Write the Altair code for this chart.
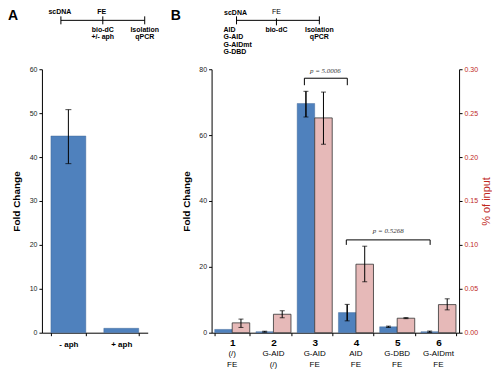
import altair as alt
import pandas as pd

SANS = "Liberation Sans"
SERIF = "Liberation Serif"
BLUE = "#4F81BD"
PINK = "#E6B9B8"
RED = "#C0281E"

# ---------------- data ----------------
a_labels = ["- aph", "+ aph"]
a_values = [44.8, 1.0]
a_err_low = [38.5, None]
a_err_high = [50.8, None]

b_groups = ["1", "2", "3", "4", "5", "6"]
b_line2 = ["(/)", "G-AID", "G-AID", "AID", "G-DBD", "G-AIDmt"]
b_line3 = ["FE", "(/)", "FE", "FE", "FE", "FE"]
fold = [1.0, 0.3, 69.6, 6.1, 1.8, 0.3]
fold_lo = [None, 0.15, 65.5, 3.6, 1.6, 0.1]
fold_hi = [None, 0.45, 73.3, 8.6, 2.0, 0.5]
pct = [0.0112, 0.021, 0.2446, 0.078, 0.0165, 0.032]
pct_lo = [0.0060, 0.017, 0.2146, 0.058, 0.0160, 0.026]
pct_hi = [0.0155, 0.025, 0.2740, 0.0985, 0.0172, 0.0386]

dummy = pd.DataFrame({"d": [0]})


def txt(s, x, y, size=7, weight="bold", align="center", color="black",
        font=SANS, style="normal"):
    return alt.Chart(pd.DataFrame({"s": [s]})).mark_text(
        align=align, baseline="middle", fontSize=size, fontWeight=weight,
        color=color, font=font, fontStyle=style
    ).encode(x=alt.value(x), y=alt.value(y), text="s:N")


def hline(x1, x2, y, w=1.0):
    return alt.Chart(dummy).mark_rule(color="black", strokeWidth=w).encode(
        x=alt.value(x1), x2=alt.value(x2), y=alt.value(y))


def vline(x, y1, y2, w=1.0):
    return alt.Chart(dummy).mark_rule(color="black", strokeWidth=w).encode(
        x=alt.value(x), y=alt.value(y1), y2=alt.value(y2))


# ---------------- panel A ----------------
A_W, A_H = 106, 264
dfa = pd.DataFrame({"cond": a_labels, "val": a_values,
                    "lo": a_err_low, "hi": a_err_high})
xa = alt.X("cond:N", sort=a_labels,
           scale=alt.Scale(paddingInner=0.34, paddingOuter=0.17),
           axis=alt.Axis(title=None, labelAngle=0, tickBand="extent",
                         labelFontWeight="bold", labelFontSize=8,
                         labelColor="black", labelPadding=5, tickSize=3))
ya = alt.Y("val:Q", scale=alt.Scale(domain=[0, 60], nice=False),
           axis=alt.Axis(title="Fold Change", values=[0, 10, 20, 30, 40, 50, 60],
                         titleFontSize=10, titleFontWeight="bold", titlePadding=8,
                         labelFontSize=7, tickSize=3))
bars_a = alt.Chart(dfa).mark_bar(color=BLUE, stroke="#3a5f8f", strokeWidth=0.4).encode(x=xa, y=ya)
err_a = alt.Chart(dfa).transform_filter("isValid(datum.lo)").mark_rule(
    color="black", strokeWidth=1).encode(x=alt.X("cond:N", sort=a_labels), y="lo:Q", y2="hi:Q")
caplo_a = alt.Chart(dfa).transform_filter("isValid(datum.lo)").mark_tick(
    color="black", orient="horizontal", size=6, thickness=1).encode(
    x=alt.X("cond:N", sort=a_labels), y="lo:Q")
caphi_a = alt.Chart(dfa).transform_filter("isValid(datum.hi)").mark_tick(
    color="black", orient="horizontal", size=6, thickness=1).encode(
    x=alt.X("cond:N", sort=a_labels), y="hi:Q")

ann_a = [
    txt("A", -34, -53, size=14, weight="bold", align="left"),
    txt("scDNA", 18, -57),
    txt("FE", 60, -57),
    hline(19, 103, -49),
    vline(19, -53, -45), vline(61, -53, -45), vline(103, -53, -45),
    txt("bio-dC", 61, -39),
    txt("+/- aph", 61, -32),
    txt("Isolation", 103, -39),
    txt("qPCR", 103, -32),
]
panel_a = alt.layer(bars_a, err_a, caplo_a, caphi_a, *ann_a).properties(width=A_W, height=A_H)

# ---------------- panel B ----------------
B_W, B_H = 248, 264
dfb = pd.DataFrame({"g": b_groups, "l2": b_line2, "l3": b_line3,
                    "fold": fold, "flo": fold_lo, "fhi": fold_hi,
                    "pct": pct, "plo": pct_lo, "phi": pct_hi})
dfb["s_blue"] = "blue"
dfb["s_pink"] = "pink"

xb = alt.X("g:N", sort=b_groups,
           scale=alt.Scale(paddingInner=0.15, paddingOuter=0.075),
           axis=alt.Axis(title=None, labelAngle=0, tickBand="extent",
                         labelFontWeight="bold", labelFontSize=10,
                         labelColor="black", labelPadding=2, tickSize=3))
off_b = alt.XOffset("s_blue:N", scale=alt.Scale(domain=["blue", "pink"]))
off_p = alt.XOffset("s_pink:N", scale=alt.Scale(domain=["blue", "pink"]))

yb = alt.Y("fold:Q", scale=alt.Scale(domain=[0, 80], nice=False),
           axis=alt.Axis(title="Fold Change", orient="left",
                         values=[0, 10, 20, 30, 40, 50, 60, 70, 80],
                         titleFontSize=10, titleFontWeight="bold", titlePadding=7,
                         labelFontSize=7, tickSize=3))
yp = alt.Y("pct:Q", scale=alt.Scale(domain=[0, 0.30], nice=False),
           axis=alt.Axis(title="% of input", orient="right", format=".2f",
                         values=[0, 0.05, 0.10, 0.15, 0.20, 0.25, 0.30],
                         titleFontSize=11, titleFontWeight="normal", titleColor=RED,
                         titleAngle=270, titlePadding=14,
                         labelColor=RED, labelFontSize=7, tickSize=3))

blue_bars = alt.Chart(dfb).mark_bar(color=BLUE, stroke="#3a5f8f", strokeWidth=0.4).encode(
    x=xb, xOffset=off_b, y=yb)
blue_err = alt.Chart(dfb).transform_filter("isValid(datum.flo)").mark_rule(
    color="black", strokeWidth=1.5).encode(
    x=alt.X("g:N", sort=b_groups), xOffset=off_b, y="flo:Q", y2="fhi:Q")
blue_cap1 = alt.Chart(dfb).transform_filter("isValid(datum.flo)").mark_tick(
    color="black", orient="horizontal", size=5, thickness=1).encode(
    x=alt.X("g:N", sort=b_groups), xOffset=off_b, y="flo:Q")
blue_cap2 = alt.Chart(dfb).transform_filter("isValid(datum.fhi)").mark_tick(
    color="black", orient="horizontal", size=5, thickness=1).encode(
    x=alt.X("g:N", sort=b_groups), xOffset=off_b, y="fhi:Q")
blue_layer = alt.layer(blue_bars, blue_err, blue_cap1, blue_cap2)

pink_bars = alt.Chart(dfb).mark_bar(color=PINK, stroke="#333333", strokeWidth=0.8).encode(
    x=xb, xOffset=off_p, y=yp)
pink_err = alt.Chart(dfb).mark_rule(color="black", strokeWidth=1).encode(
    x=alt.X("g:N", sort=b_groups), xOffset=off_p,
    y=alt.Y("plo:Q"), y2="phi:Q")
pink_cap1 = alt.Chart(dfb).mark_tick(
    color="black", orient="horizontal", size=5, thickness=1).encode(
    x=alt.X("g:N", sort=b_groups), xOffset=off_p, y="plo:Q")
pink_cap2 = alt.Chart(dfb).mark_tick(
    color="black", orient="horizontal", size=5, thickness=1).encode(
    x=alt.X("g:N", sort=b_groups), xOffset=off_p, y="phi:Q")
pink_layer = alt.layer(pink_bars, pink_err, pink_cap1, pink_cap2)

sub2 = alt.Chart(dfb).mark_text(fontSize=8, font=SANS, color="black", baseline="middle").encode(
    x=alt.X("g:N", sort=b_groups), y=alt.value(B_H + 21), text="l2:N")
sub3 = alt.Chart(dfb).mark_text(fontSize=8, font=SANS, color="black", baseline="middle").encode(
    x=alt.X("g:N", sort=b_groups), y=alt.value(B_H + 32), text="l3:N")

ann_b = [
    txt("B", -41, -53, size=14, weight="bold", align="left"),
    txt("scDNA", 24, -56),
    txt("FE", 65, -57, weight="normal"),
    hline(25, 108, -49),
    vline(25, -53, -45), vline(65, -51, -44), vline(108, -53, -45),
    txt("AID", 12, -39, align="left"),
    txt("G-AID", 12, -32, align="left"),
    txt("G-AIDmt", 12, -24, align="left"),
    txt("G-DBD", 12, -17, align="left"),
    txt("bio-dC", 65, -39),
    txt("Isolation", 108, -39),
    txt("qPCR", 108, -32),
    # p-value brackets
    txt("p = 5.0006", 114, 2, size=7, weight="normal", font=SERIF, style="italic", color="#333333"),
    hline(93, 136, 9), vline(93, 9, 16), vline(136, 9, 16),
    txt("p = 0.5268", 177, 162, size=7, weight="normal", font=SERIF, style="italic", color="#333333"),
    hline(135, 219, 171), vline(135, 171, 176), vline(219, 171, 176),
]

panel_b = alt.layer(blue_layer, pink_layer, sub2, sub3, *ann_b).resolve_scale(
    y="independent").properties(width=B_W, height=B_H)

chart = alt.hconcat(panel_a, panel_b, spacing=11).properties(padding=0).configure_view(
    stroke=None).configure_axis(
    labelFont=SANS, titleFont=SANS, grid=False, domainColor="black",
    tickColor="black", labelColor="#222222", titleColor="black")

chart.save("out.html", embed_options={"renderer": "svg", "actions": False})
